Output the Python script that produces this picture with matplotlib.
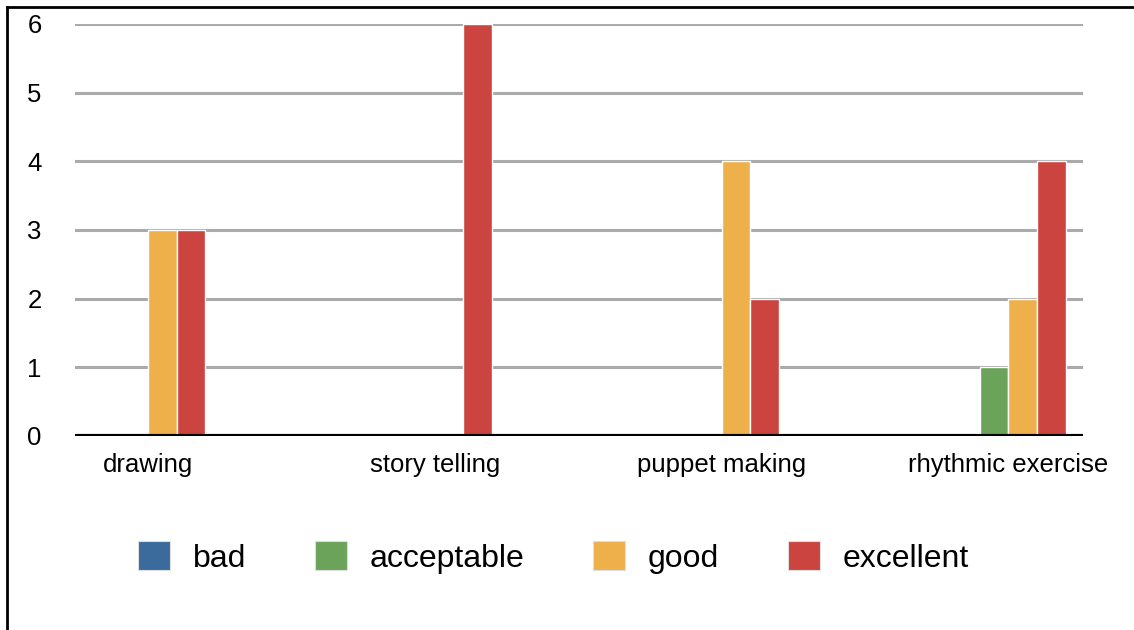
import matplotlib.pyplot as plt
import matplotlib.lines as mlines
import matplotlib.patches as mpatches
import numpy as np

plt.rcParams['font.family'] = ['Liberation Sans', 'DejaVu Sans']

# activity ratings
activities = ['drawing', 'story telling', 'puppet making', 'rhythmic exercise']
ratings = ['bad', 'acceptable', 'good', 'excellent']
bad = [0, 0, 0, 0]
acceptable = [0, 0, 0, 1]
good = [3, 0, 4, 2]
excellent = [3, 6, 2, 4]
colours = ['#3a6b9c', '#6aa359', '#eeb04b', '#cc443f']

fig = plt.figure(figsize=(11.34, 6.3), dpi=100)
ax = fig.add_axes([0.0661, 0.308, 0.889, 0.654])

x = np.arange(len(activities))
w = 0.1
series = [bad, acceptable, good, excellent]
for i, vals in enumerate(series):
    ax.bar(x + (i - 1.5) * w, vals, w, color=colours[i], edgecolor='white',
           linewidth=1, label=ratings[i], zorder=2)

ax.set_xlim(-0.254, 3.26)
ax.set_ylim(0, 6)
ax.set_yticks(range(0, 7))
ax.yaxis.grid(True, color='#aaaaaa', linewidth=2.2)
ax.set_axisbelow(True)
ax.axhline(0, color='black', linewidth=3, zorder=3)
for s in ax.spines.values():
    s.set_visible(False)
ax.set_xticks(x)
ax.set_xticklabels(activities)
ax.tick_params(axis='both', length=0, labelsize=18.5)
ax.tick_params(axis='y', pad=24)
ax.tick_params(axis='x', pad=12)

# legend with square swatches
handles = [mpatches.Patch(facecolor=c, edgecolor='#dddddd', linewidth=0.8) for c in colours]
fig.legend(handles, ratings, loc='center', bbox_to_anchor=(0.488, 0.115), ncol=4,
           frameon=False, fontsize=23, handlelength=1.0, handleheight=1.0,
           handletextpad=0.72, columnspacing=2.15)

# frame edges on the left and top
fig.add_artist(mlines.Line2D([0.0062, 0.0062], [0, 0.989], color='black', linewidth=2))
fig.add_artist(mlines.Line2D([0.0062, 1], [0.989, 0.989], color='black', linewidth=2))

fig.savefig('out.png', dpi=100)
